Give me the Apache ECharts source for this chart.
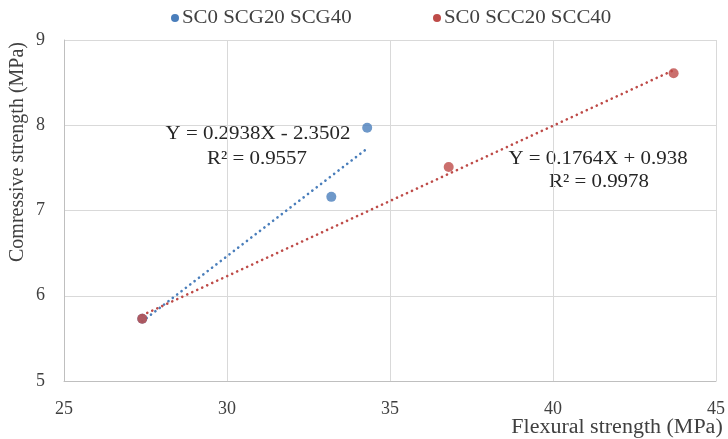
<!DOCTYPE html>
<html>
<head>
<meta charset="utf-8">
<script src="https://cdn.jsdelivr.net/npm/echarts@6/dist/echarts.min.js"></script>
<style>
  html, body { margin: 0; padding: 0; background: #fff; }
  #chart { width: 728px; height: 439px; }
</style>
</head>
<body>
<div id="chart"></div>
<script>
// Flexural vs compressive strength, two mix groups
const seriesNames = ['SC0 SCG20 SCG40', 'SC0 SCC20 SCC40'];
const flexuralG = [27.4, 33.2, 34.3];
const compressiveG = [5.73, 7.16, 7.97];
const flexuralC = [27.4, 36.8, 43.7];
const compressiveC = [5.73, 7.51, 8.61];

// Linear trendline coefficients (slope, intercept) and R²
const fitG = [0.2938, -2.3502];
const fitC = [0.1764, 0.938];
const r2G = '0.9557';
const r2C = '0.9978';

const xTicks = [25, 30, 35, 40, 45];
const yTicks = [5, 6, 7, 8, 9];

const blue = '#4A7EBB';
const red = '#BE4B48';
const font = 'Liberation Serif';
const textColor = '#404040';

function pairs(xs, ys) { return xs.map((x, i) => [x, ys[i]]); }
function trend(xs, fit) {
  const lo = Math.min(...xs), hi = Math.max(...xs);
  return [[lo, fit[0] * lo + fit[1]], [hi, fit[0] * hi + fit[1]]];
}
function eqText(fit) {
  const b = fit[1];
  return 'Y = ' + fit[0] + 'X ' + (b < 0 ? '- ' : '+ ') + Math.abs(b);
}
function note(text, x, y, size, color, align) {
  return {
    type: 'text', x: x, y: y, scaleX: 1.1, scaleY: 1,
    style: { text: text, font: size + 'px "' + font + '"', fill: color || '#262626', align: align || 'center', verticalAlign: 'middle' }
  };
}
// legend entry: coloured dot followed by the series name
function legendItem(name, color, x, y) {
  return [
    { type: 'circle', shape: { cx: x, cy: y, r: 4 }, style: { fill: color } },
    note(name, x + 7, y, 19, textColor, 'left')
  ];
}

const chart = echarts.init(document.getElementById('chart'), null, { renderer: 'canvas' });

const trendStyle = (c) => ({ color: c, width: 2.6, type: [0.1, 5.4], cap: 'round' });

chart.setOption({
  animation: false,
  backgroundColor: '#fff',
  textStyle: { fontFamily: font },
  grid: { left: 64, right: 8, top: 40, bottom: 58 },
  xAxis: {
    type: 'value',
    min: xTicks[0],
    max: xTicks[xTicks.length - 1],
    interval: 5,
    axisLine: { show: true, lineStyle: { color: '#BFBFBF' } },
    axisTick: { show: false },
    splitLine: { show: true, lineStyle: { color: '#D9D9D9' } },
    axisLabel: { fontFamily: font, fontSize: 18, color: textColor, margin: 19 }
  },
  yAxis: {
    type: 'value',
    min: yTicks[0],
    max: yTicks[yTicks.length - 1],
    interval: 1,
    axisLine: { show: true, lineStyle: { color: '#BFBFBF' } },
    axisTick: { show: false },
    splitLine: { show: true, lineStyle: { color: '#D9D9D9' } },
    axisLabel: { fontFamily: font, fontSize: 18, color: textColor, margin: 19 }
  },
  graphic: [
    ...legendItem(seriesNames[0], blue, 175, 18),
    ...legendItem(seriesNames[1], red, 437, 18),
    // axis titles
    { type: 'text', x: 18, y: 152, rotation: Math.PI / 2,
      style: { text: 'Comressive strength (MPa)', font: '20px "' + font + '"', fill: textColor, align: 'center', verticalAlign: 'middle' } },
    note('Flexural strength (MPa)', 617, 428, 20, textColor),
    // trendline equations
    note(eqText(fitG), 258, 134, 19),
    note('R² = ' + r2G, 257, 159, 19),
    note(eqText(fitC), 598, 159, 19),
    note('R² = ' + r2C, 599, 182, 19)
  ],
  series: [
    {
      name: seriesNames[0] + ' trend', type: 'line', data: trend(flexuralG, fitG),
      symbol: 'none', lineStyle: trendStyle(blue), z: 2, silent: true
    },
    {
      name: seriesNames[1] + ' trend', type: 'line', data: trend(flexuralC, fitC),
      symbol: 'none', lineStyle: trendStyle(red), z: 2, silent: true
    },
    {
      name: seriesNames[0], type: 'scatter', data: pairs(flexuralG, compressiveG),
      symbol: 'circle', symbolSize: 10, itemStyle: { color: blue }, z: 3
    },
    {
      name: seriesNames[1], type: 'scatter', data: pairs(flexuralC, compressiveC),
      symbol: 'circle', symbolSize: 10, itemStyle: { color: red }, z: 4
    }
  ]
});
</script>
</body>
</html>
